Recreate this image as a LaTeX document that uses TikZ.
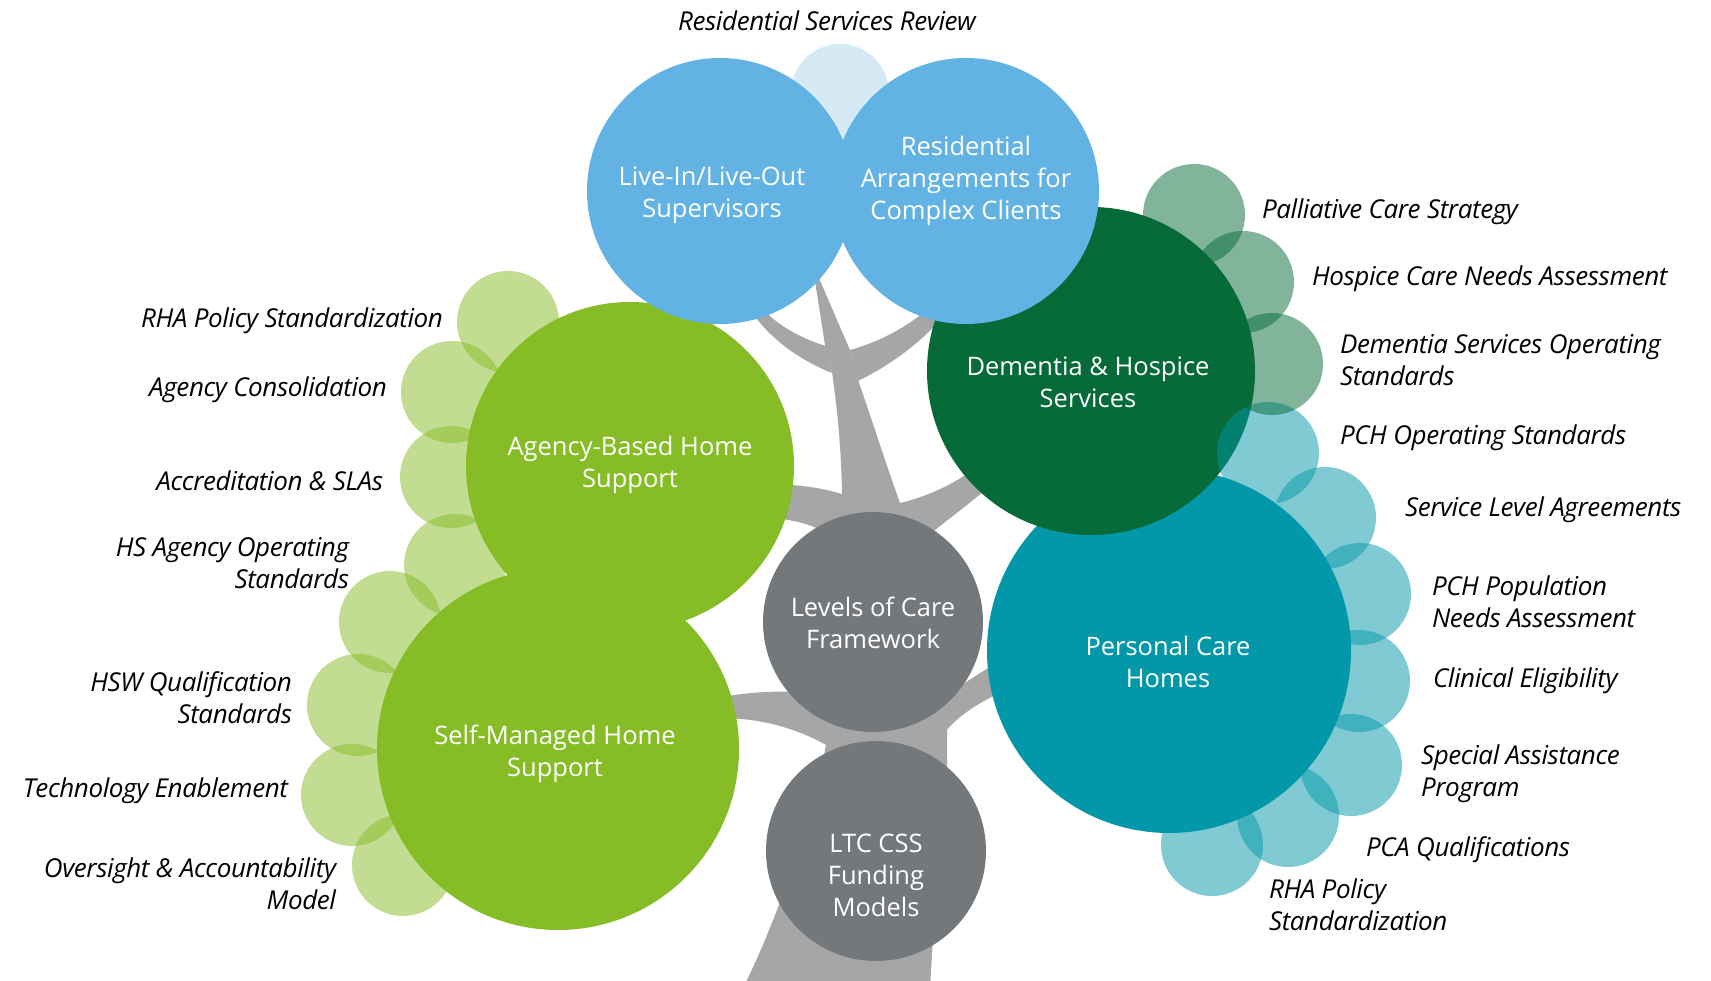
\documentclass[tikz,border=0pt]{standalone}
\usepackage{fontspec}
\setmainfont{Open Sans}
\newfontfamily\notefont[LetterSpace=-1.5]{Open Sans}
\newfontfamily\bubblefont{Open Sans}

\definecolor{skyb}{HTML}{62B3E3}
\definecolor{paleb}{HTML}{D6EAF6}
\definecolor{forest}{HTML}{066B38}
\definecolor{pchteal}{HTML}{0298A9}
\definecolor{leafgreen}{HTML}{86BC25}
\definecolor{slate}{HTML}{75787B}
\definecolor{bark}{HTML}{A6A6A6}

\begin{document}
\begin{tikzpicture}[x=1pt,y=-1pt,
  every node/.style={inner sep=0pt,outer sep=0pt},
  disc/.style={circle,draw=none},
  caption/.style={text=white,align=center,font=\bubblefont\fontsize{25.5}{32}\selectfont},
  note/.style={text=black,font=\notefont\itshape\fontsize{26}{32}\selectfont},
  twig/.style={circle,minimum size=102pt,fill opacity=0.5},
]
\fill[white] (0,0) rectangle (1711,981);
\useasboundingbox (0,0) rectangle (1711,981);

% ---- tree trunk and branches ----
% lower trunk
\fill[bark] (742,990) .. controls (775,925) and (812,820) .. (826,745)
  -- (840,690) -- (947,690) -- (947,767)
  .. controls (940,850) and (933,930) .. (930,990) -- cycle;
% branch towards self-managed support
\fill[bark] (722,697) .. controls (750,692) and (775,691) .. (795,692)
  -- (840,700) -- (826,745) .. controls (800,730) and (765,719) .. (725,718) -- cycle;
% branch towards personal care homes
\fill[bark] (935,705) -- (960,686) .. controls (972,678) and (985,670) .. (998,662)
  -- (1000,693) .. controls (978,703) and (958,716) .. (945,732) -- cycle;
% upper stem with the spike between the two top circles
\fill[bark] (836,575) -- (842,493) .. controls (841,440) and (836,400) .. (832,372)
  -- (825,345) -- (812,262) -- (850,350) -- (858,380)
  .. controls (872,420) and (888,470) .. (900,503) -- (925,575) -- cycle;
% curved arm to the left top circle
\fill[bark] (754,300) .. controls (775,325) and (800,338) .. (826,346)
  -- (832,373) .. controls (800,360) and (775,342) .. (756,318) -- cycle;
% curved arm to the right top circle
\fill[bark] (935,303) .. controls (905,330) and (875,343) .. (850,350)
  -- (858,381) .. controls (890,365) and (918,345) .. (942,318) -- cycle;
% branch towards agency-based support
\fill[bark] (775,484) .. controls (805,485) and (825,489) .. (842,494)
  -- (845,560) -- (830,535) .. controls (815,526) and (800,521) .. (775,518) -- cycle;
% branch towards dementia and hospice services
\fill[bark] (900,503) .. controls (925,497) and (948,487) .. (970,472)
  -- (984,491) .. controls (965,507) and (950,518) .. (935,530) -- (905,565) -- cycle;

% ---- main circles ----
\node[disc,fill=paleb,minimum size=98pt] (review) at (840,93) {};
\node[disc,fill=leafgreen,minimum size=328pt] (agency) at (630,466) {};
\node[disc,fill=leafgreen,minimum size=362pt] (selfm) at (558,749) {};
\node[disc,fill=pchteal,minimum size=364pt] (pch) at (1169,651) {};
\node[disc,fill=forest,minimum size=328pt] (dementia) at (1091,371) {};
\node[disc,fill=slate,minimum size=220pt] (levels) at (873,622) {};
\node[disc,fill=slate,minimum size=220pt] (ltc) at (876,851) {};
\node[disc,fill=skyb,minimum size=266pt] (live) at (720,191) {};
\node[disc,fill=skyb,minimum size=266pt] (resi) at (966,191) {};

% ---- small translucent circles ----
\foreach \n/\p in {c1/{(508,322)},c2/{(452,392)},c3/{(451,477)},c4/{(455,565)},
                   c5/{(390,622)},c6/{(358,705)},c7/{(352,795)},c8/{(403,865)}}
  \node[twig,fill=leafgreen] (\n) at \p {};
\foreach \n/\p in {t1/{(1268,453)},t2/{(1325,518)},t3/{(1360,594)},t4/{(1359,681)},
                   t5/{(1351,765)},t6/{(1288,816)},t7/{(1212,845)}}
  \node[twig,fill=pchteal] (\n) at \p {};
\foreach \n/\p in {d1/{(1194,215)},d2/{(1243,282)},d3/{(1272,364)}}
  \node[twig,fill=forest] (\n) at \p {};

% ---- circle captions ----
\node[caption] (live-t) at ([xshift=-8pt,yshift=-4pt]live.center) {Live-In/Live-Out\\Supervisors};
\node[caption] (resi-t) at ([yshift=10pt]resi.center) {Residential\\Arrangements for\\Complex Clients};
\node[caption] (dementia-t) at ([xshift=-3pt,yshift=-11pt]dementia.center) {Dementia \& Hospice\\Services};
\node[caption] (agency-t) at ([yshift=1pt]agency.center) {Agency-Based Home\\Support};
\node[caption] (selfm-t) at ([xshift=-3pt,yshift=-5pt]selfm.center) {Self-Managed Home\\Support};
\node[caption] (levels-t) at ([yshift=-1pt]levels.center) {Levels of Care\\Framework};
\node[caption] (pch-t) at ([xshift=-1pt,yshift=-11pt]pch.center) {Personal Care\\Homes};
\node[caption] (ltc-t) at ([yshift=-24pt]ltc.center) {LTC CSS\\Funding\\Models};

% ---- labels ----
\node[note] (review-l) at (827,21) {Residential Services Review};
\begin{scope}[every node/.append style={anchor=east,align=right}]
\node[note] (c1-l) at (443,321) {RHA Policy Standardization};
\node[note] (c2-l) at (387,390) {Agency Consolidation};
\node[note] (c3-l) at (383,481) {Accreditation \& SLAs};
\node[note] (c4-l) at (349,563) {HS Agency Operating\\Standards};
\node[note] (c6-l) at (292,698) {HSW Qualification\\Standards};
\node[note] (c7-l) at (288,791) {Technology Enablement};
\node[note] (c8-l) at (336,884) {Oversight \& Accountability\\Model};
\end{scope}
\begin{scope}[every node/.append style={anchor=west,align=left}]
\node[note] (d1-l) at (1262,212) {Palliative Care Strategy};
\node[note] (d2-l) at (1312,279) {Hospice Care Needs Assessment};
\node[note] (d3-l) at (1340,360) {Dementia Services Operating\\Standards};
\node[note] (t1-l) at (1340,438) {PCH Operating Standards};
\node[note] (t2-l) at (1405,510) {Service Level Agreements};
\node[note] (t3-l) at (1432,602) {PCH Population\\Needs Assessment};
\node[note] (t4-l) at (1433,681) {Clinical Eligibility};
\node[note] (t5-l) at (1421,774) {Special Assistance\\Program};
\node[note] (t6-l) at (1366,850) {PCA Qualifications};
\node[note] (t7-l) at (1269,905) {RHA Policy\\Standardization};
\end{scope}
\end{tikzpicture}
\end{document}
